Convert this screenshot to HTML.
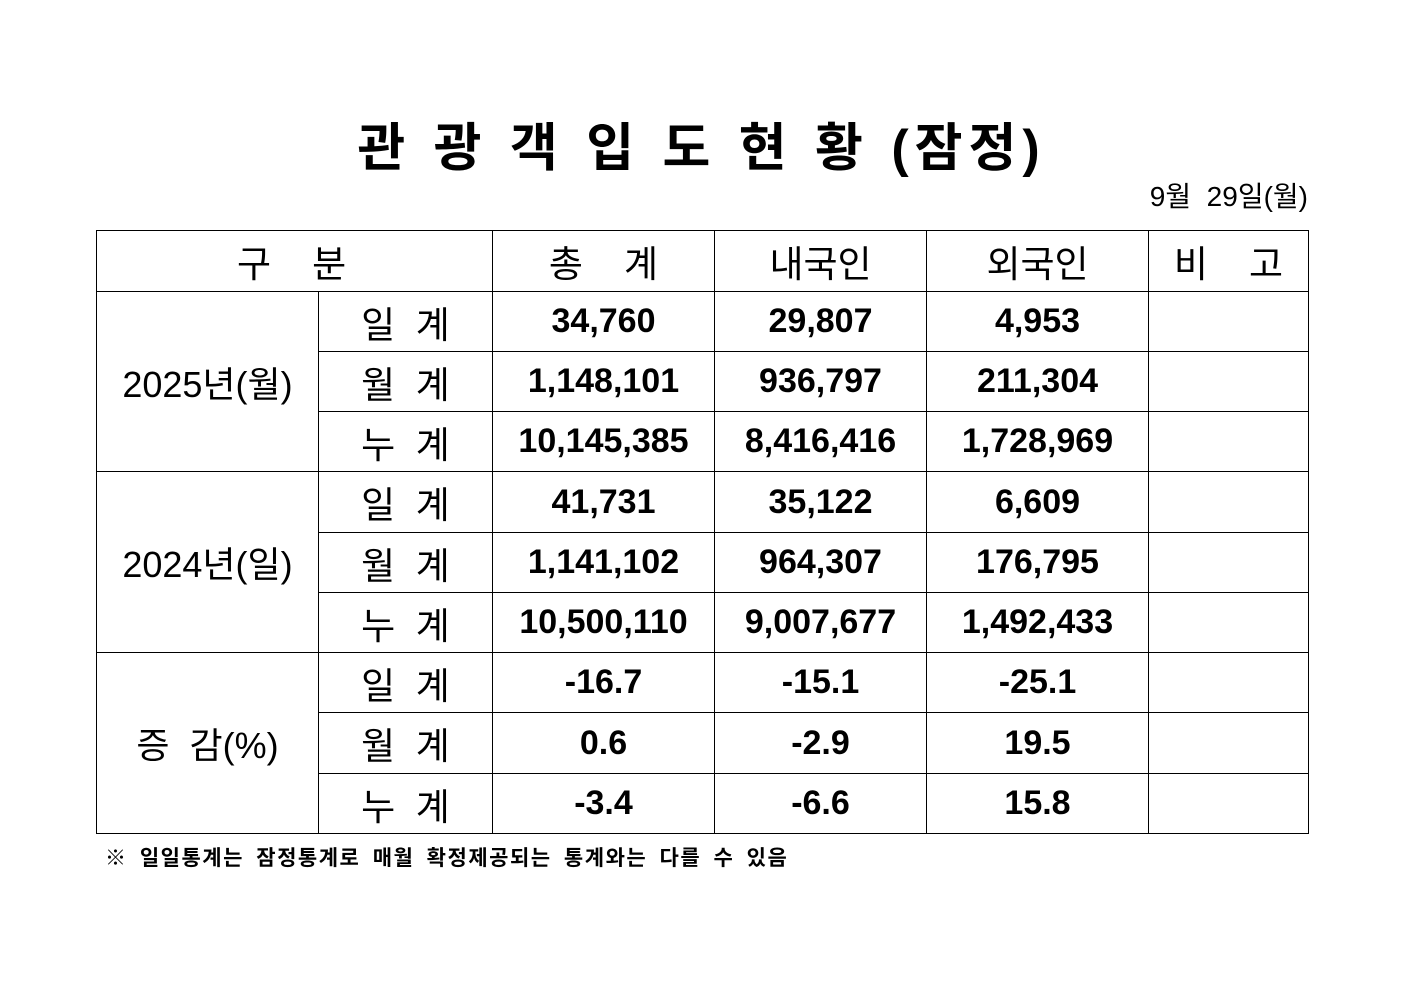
<!DOCTYPE html>
<html><head><meta charset="utf-8">
<style>
body{margin:0;width:1403px;height:992px;background:#fff;position:relative;font-family:"Liberation Sans","Noto Sans CJK KR","NanumGothic",sans-serif;color:#000;overflow:hidden}
.title{position:absolute;left:0;width:1403px;top:106px;text-align:center;font-size:52px;font-weight:bold;letter-spacing:6px;word-spacing:2px}
.date{position:absolute;right:95px;top:175px;font-size:28px;white-space:pre}
table{position:absolute;left:96px;top:230px;border-collapse:collapse;table-layout:fixed}
td{border:1px solid #000;padding:0;text-align:center;vertical-align:middle;box-sizing:border-box}
.h{font-size:37px;height:61px}
.l{font-size:37px}
.n{font-size:34px;font-weight:bold}
.g{font-size:36px}
.foot{position:absolute;left:105px;top:842px;font-size:21px;font-weight:bold;letter-spacing:1.5px;word-spacing:5px}
</style></head><body>
<div class="title">관 광 객 입 도 현 황 (잠정)</div>
<div class="date">9월  29일(월)</div>
<table>
<colgroup><col style="width:222px"><col style="width:174px"><col style="width:222px"><col style="width:212px"><col style="width:222px"><col style="width:160px"></colgroup>
<tr><td class="h" colspan="2" style="text-align:left;padding-left:140px">구&nbsp;&nbsp;&nbsp;&nbsp;분</td><td class="h">총&nbsp;&nbsp;&nbsp;&nbsp;계</td><td class="h">내국인</td><td class="h">외국인</td><td class="h">비&nbsp;&nbsp;&nbsp;&nbsp;고</td></tr>
<tr style="height:60px"><td class="g" rowspan="3">2025년(월)</td><td class="l">일&nbsp;&nbsp;계</td><td class="n">34,760</td><td class="n">29,807</td><td class="n">4,953</td><td></td></tr>
<tr style="height:60px"><td class="l">월&nbsp;&nbsp;계</td><td class="n">1,148,101</td><td class="n">936,797</td><td class="n">211,304</td><td></td></tr>
<tr style="height:60px"><td class="l">누&nbsp;&nbsp;계</td><td class="n">10,145,385</td><td class="n">8,416,416</td><td class="n">1,728,969</td><td></td></tr>
<tr style="height:61px"><td class="g" rowspan="3">2024년(일)</td><td class="l">일&nbsp;&nbsp;계</td><td class="n">41,731</td><td class="n">35,122</td><td class="n">6,609</td><td></td></tr>
<tr style="height:60px"><td class="l">월&nbsp;&nbsp;계</td><td class="n">1,141,102</td><td class="n">964,307</td><td class="n">176,795</td><td></td></tr>
<tr style="height:60px"><td class="l">누&nbsp;&nbsp;계</td><td class="n">10,500,110</td><td class="n">9,007,677</td><td class="n">1,492,433</td><td></td></tr>
<tr style="height:60px"><td class="g" rowspan="3">증&nbsp;&nbsp;감(%)</td><td class="l">일&nbsp;&nbsp;계</td><td class="n">-16.7</td><td class="n">-15.1</td><td class="n">-25.1</td><td></td></tr>
<tr style="height:61px"><td class="l">월&nbsp;&nbsp;계</td><td class="n">0.6</td><td class="n">-2.9</td><td class="n">19.5</td><td></td></tr>
<tr style="height:60px"><td class="l">누&nbsp;&nbsp;계</td><td class="n">-3.4</td><td class="n">-6.6</td><td class="n">15.8</td><td></td></tr>
</table>
<div class="foot">※ 일일통계는 잠정통계로 매월 확정제공되는 통계와는 다를 수 있음</div>
</body></html>
